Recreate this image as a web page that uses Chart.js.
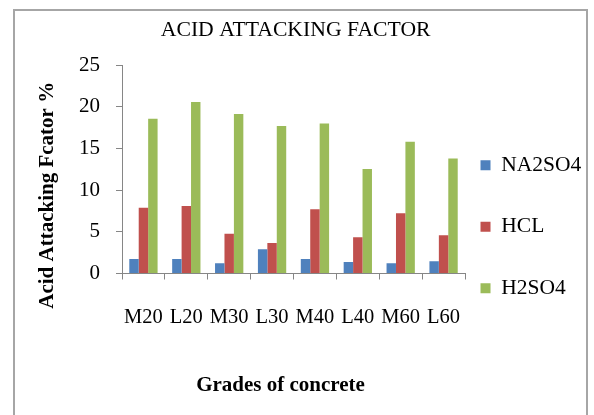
<!DOCTYPE html>
<html>
<head>
<meta charset="utf-8">
<script src="https://cdn.jsdelivr.net/npm/chart.js@4/dist/chart.umd.min.js"></script>
<style>
  html, body { margin: 0; padding: 0; background: #ffffff; overflow: hidden; }
  #wrap { position: relative; width: 594px; height: 415px; overflow: hidden; }
  #frame { position: absolute; left: 13px; top: 9px; width: 575px; height: 420px;
           border: 2px solid #a6a6a6; box-sizing: border-box; }
  canvas { position: absolute; left: 0; top: 0; }
</style>
</head>
<body>
<div id="wrap">
  <div id="frame"></div>
  <canvas id="c" width="594" height="415"></canvas>
</div>
<script>
// ---- data ----
const categories = ["M20", "L20", "M30", "L30", "M40", "L40", "M60", "L60"];
const na2so4 = [1.74, 1.74, 1.23, 2.9, 1.74, 1.38, 1.23, 1.46];
const hcl    = [7.9, 8.1, 4.77, 3.66, 7.72, 4.35, 7.23, 4.58];
const h2so4  = [18.57, 20.58, 19.13, 17.69, 18.0, 12.52, 15.8, 13.8];
const seriesNames = ["NA2SO4", "HCL", "H2SO4"];
const yTicks = [0, 5, 10, 15, 20, 25];
const chartTitle = "ACID ATTACKING FACTOR";
const xTitle = "Grades of concrete";
const yTitle = "Acid Attacking Fcator %";

const SERIF = "'Liberation Serif', 'Times New Roman', serif";
const AXIS = "#868686";

const axisTitles = {
  id: "axisTitles",
  afterDraw(chart) {
    const ctx = chart.ctx, a = chart.chartArea;
    ctx.save();
    ctx.fillStyle = "#000";
    ctx.font = "bold 21px " + SERIF;
    ctx.textAlign = "center";
    ctx.textBaseline = "middle";
    ctx.fillText(xTitle, (a.left + a.right) / 2 - 13, a.bottom + 112);
    ctx.translate(a.left - 74, (a.top + a.bottom) / 2 + 26);
    ctx.rotate(-Math.PI / 2);
    ctx.fillText(yTitle, 0, 0);
    ctx.restore();
  }
};

new Chart(document.getElementById("c"), {
  type: "bar",
  data: {
    labels: categories,
    datasets: [
      { label: seriesNames[0], data: na2so4, backgroundColor: "#4F81BD" },
      { label: seriesNames[1], data: hcl,    backgroundColor: "#C0504D" },
      { label: seriesNames[2], data: h2so4,  backgroundColor: "#9BBB59" }
    ]
  },
  options: {
    responsive: false,
    devicePixelRatio: 1,
    animation: false,
    layout: { padding: { left: 0, top: 0, right: 2.7, bottom: 76 } },
    datasets: { bar: { categoryPercentage: 0.66, barPercentage: 1.0 } },
    plugins: {
      tooltip: { enabled: false },
      title: {
        display: true,
        text: chartTitle,
        color: "#000",
        font: { family: SERIF, size: 21.7, weight: "normal" },
        padding: { top: 17, bottom: 22 }
      },
      legend: {
        display: true,
        position: "right",
        align: "end",
        labels: {
          color: "#000",
          boxWidth: 10,
          boxHeight: 10,
          padding: 15.5,
          font: { family: SERIF, size: 21.5, lineHeight: "46px" },
          generateLabels(chart) {
            return Chart.defaults.plugins.legend.labels.generateLabels(chart)
              .map(l => Object.assign({}, l, { text: [l.text], lineWidth: 0 }));
          }
        }
      }
    },
    scales: {
      x: {
        afterFit(scale) { scale.height = 65.5; },
        grid: { drawOnChartArea: false, drawTicks: true, tickLength: 6, color: AXIS, offset: true },
        border: { display: true, color: AXIS, width: 1 },
        ticks: { color: "#000", font: { family: SERIF, size: 20.5 }, padding: 25.5, maxRotation: 0, autoSkip: false }
      },
      y: {
        min: yTicks[0],
        max: yTicks[yTicks.length - 1],
        afterFit(scale) { scale.width = 122; },
        afterBuildTicks(scale) { scale.ticks = yTicks.map(v => ({ value: v })); },
        grid: { drawOnChartArea: false, drawTicks: true, tickLength: 6, color: AXIS },
        border: { display: true, color: AXIS, width: 1 },
        ticks: { color: "#000", font: { family: SERIF, size: 21 }, padding: 16 }
      }
    }
  },
  plugins: [axisTitles]
});
</script>
</body>
</html>
